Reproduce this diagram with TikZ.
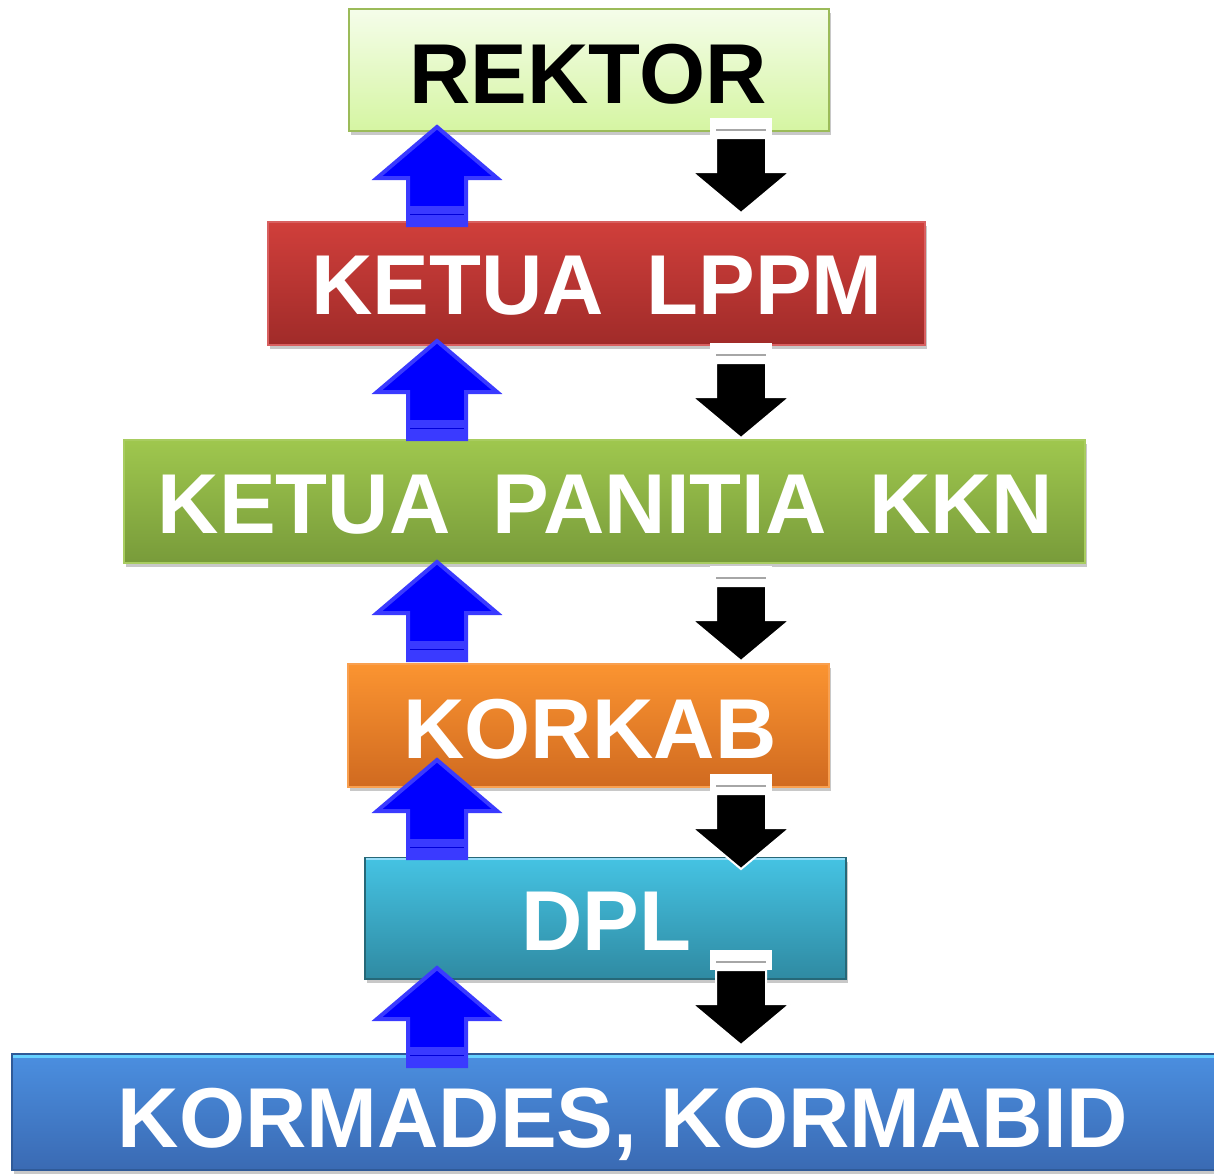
\documentclass[tikz,border=0pt]{standalone}
\usepackage{fontspec}
\setmainfont{Liberation Sans}
\usetikzlibrary{shadows}
\definecolor{rekT}{HTML}{F5FDEA}\definecolor{rekB}{HTML}{D5F5A2}\definecolor{rekD}{HTML}{9BBB59}
\definecolor{lpT}{HTML}{D03F3B}\definecolor{lpB}{HTML}{A02B29}\definecolor{lpD}{HTML}{D86060}
\definecolor{kkT}{HTML}{9FC74E}\definecolor{kkB}{HTML}{789B3A}\definecolor{kkD}{HTML}{A8CC60}
\definecolor{koT}{HTML}{FB9431}\definecolor{koB}{HTML}{D06A20}\definecolor{koD}{HTML}{F9A050}
\definecolor{dpT}{HTML}{45C3E3}\definecolor{dpB}{HTML}{2F8AA2}\definecolor{dpD}{HTML}{266878}
\definecolor{kmT}{HTML}{4B8FE0}\definecolor{kmB}{HTML}{3A6AB3}\definecolor{kmD}{HTML}{2F5A98}
\definecolor{arrBlue}{HTML}{0000FF}\definecolor{arrEdge}{HTML}{3A3AFF}
\tikzset{
  box/.style={rectangle, inner sep=0pt, line width=1.5pt,
    drop shadow={shadow xshift=2pt, shadow yshift=-4pt, opacity=0.3, fill=black!70}},
  lbl/.style={inner sep=0pt, text height=61pt, text depth=0pt,
    font=\fontsize{85}{90}\selectfont\bfseries},
  uparr/.pic={
    \fill[arrBlue, draw=arrEdge, line width=4pt, line join=miter]
      (0,2) -- (60,53) -- (29,53) -- (29,100) -- (-29,100) -- (-29,53) -- (-60,53) -- cycle;
    \fill[arrEdge] (-31,81) rectangle (31,102);
    \draw[blue!85!black, line width=1pt] (-27,89) -- (27,89);
  },
  downarr/.pic={
    \fill[black, draw=white, line width=2pt, line join=miter]
      (-25,20) -- (25,20) -- (25,54) -- (49,54) -- (0,95) -- (-49,54) -- (-25,54) -- cycle;
    \fill[white] (-31,0) rectangle (31,20);
    \draw[black!35, line width=2pt] (-25,12) -- (25,12);
  }
}
\begin{document}
\begin{tikzpicture}[x=1pt,y=-1pt]
\clip (0,0) rectangle (1214,1173);
\fill[white] (0,0) rectangle (1214,1173);
% boxes
\node[box, top color=rekT, bottom color=rekB, draw=rekD, minimum width=480pt, minimum height=122pt] (rek) at (589,70) {};
\node[box, top color=lpT, bottom color=lpB, draw=lpD, minimum width=657pt, minimum height=123pt] (lppm) at (596.5,283.5) {};
\node[box, top color=kkT, bottom color=kkB, draw=kkD, minimum width=961pt, minimum height=123pt] (kkn) at (604.5,501.5) {};
\node[box, top color=koT, bottom color=koB, draw=koD, minimum width=481pt, minimum height=123pt] (korkab) at (588.5,725.5) {};
\node[box, top color=dpT, bottom color=dpB, draw=dpD, minimum width=481pt, minimum height=121pt] (dpl) at (605.5,918.5) {};
\node[box, top color=kmT, bottom color=kmB, draw=kmD, minimum width=1222pt, minimum height=116pt] (korm) at (623,1112) {};
% bevel highlights
\draw[cyan!40!white, line width=2pt] ([xshift=2pt,yshift=-2pt]dpl.north west) -- ([xshift=-2pt,yshift=-2pt]dpl.north east);
\draw[blue!30!cyan!60!white, line width=3pt] ([xshift=2pt,yshift=-3pt]korm.north west) -- ([xshift=-2pt,yshift=-3pt]korm.north east);
% labels
\node[lbl, text=black] (trek) at (588,72.5) {REKTOR};
\node[lbl, text=white] (tlppm) at (597,284) {KETUA\hspace{0.5em}LPPM};
\node[lbl, text=white] (tkkn) at (605.5,502.5) {KETUA\hspace{0.5em}PANITIA\hspace{0.5em}KKN};
\node[lbl, text=white] (tkorkab) at (590,727.5) {KORKAB};
\node[lbl, text=white] (tdpl) at (606,920) {DPL};
\node[lbl, text=white] (tkorm) at (623,1116.5) {KORMADES, KORMABID};
% up arrows (reports upward)
\pic (ua1) at (437,125) {uparr};
\pic (ua2) at (437,339) {uparr};
\pic (ua3) at (437,560) {uparr};
\pic (ua4) at (437,758) {uparr};
\pic (ua5) at (437,966) {uparr};
% down arrows (instructions downward)
\pic (da1) at (741,118) {downarr};
\pic (da2) at (741,343) {downarr};
\pic (da3) at (741,566) {downarr};
\pic (da4) at (741,774) {downarr};
\pic (da5) at (741,950) {downarr};
\end{tikzpicture}
\end{document}
